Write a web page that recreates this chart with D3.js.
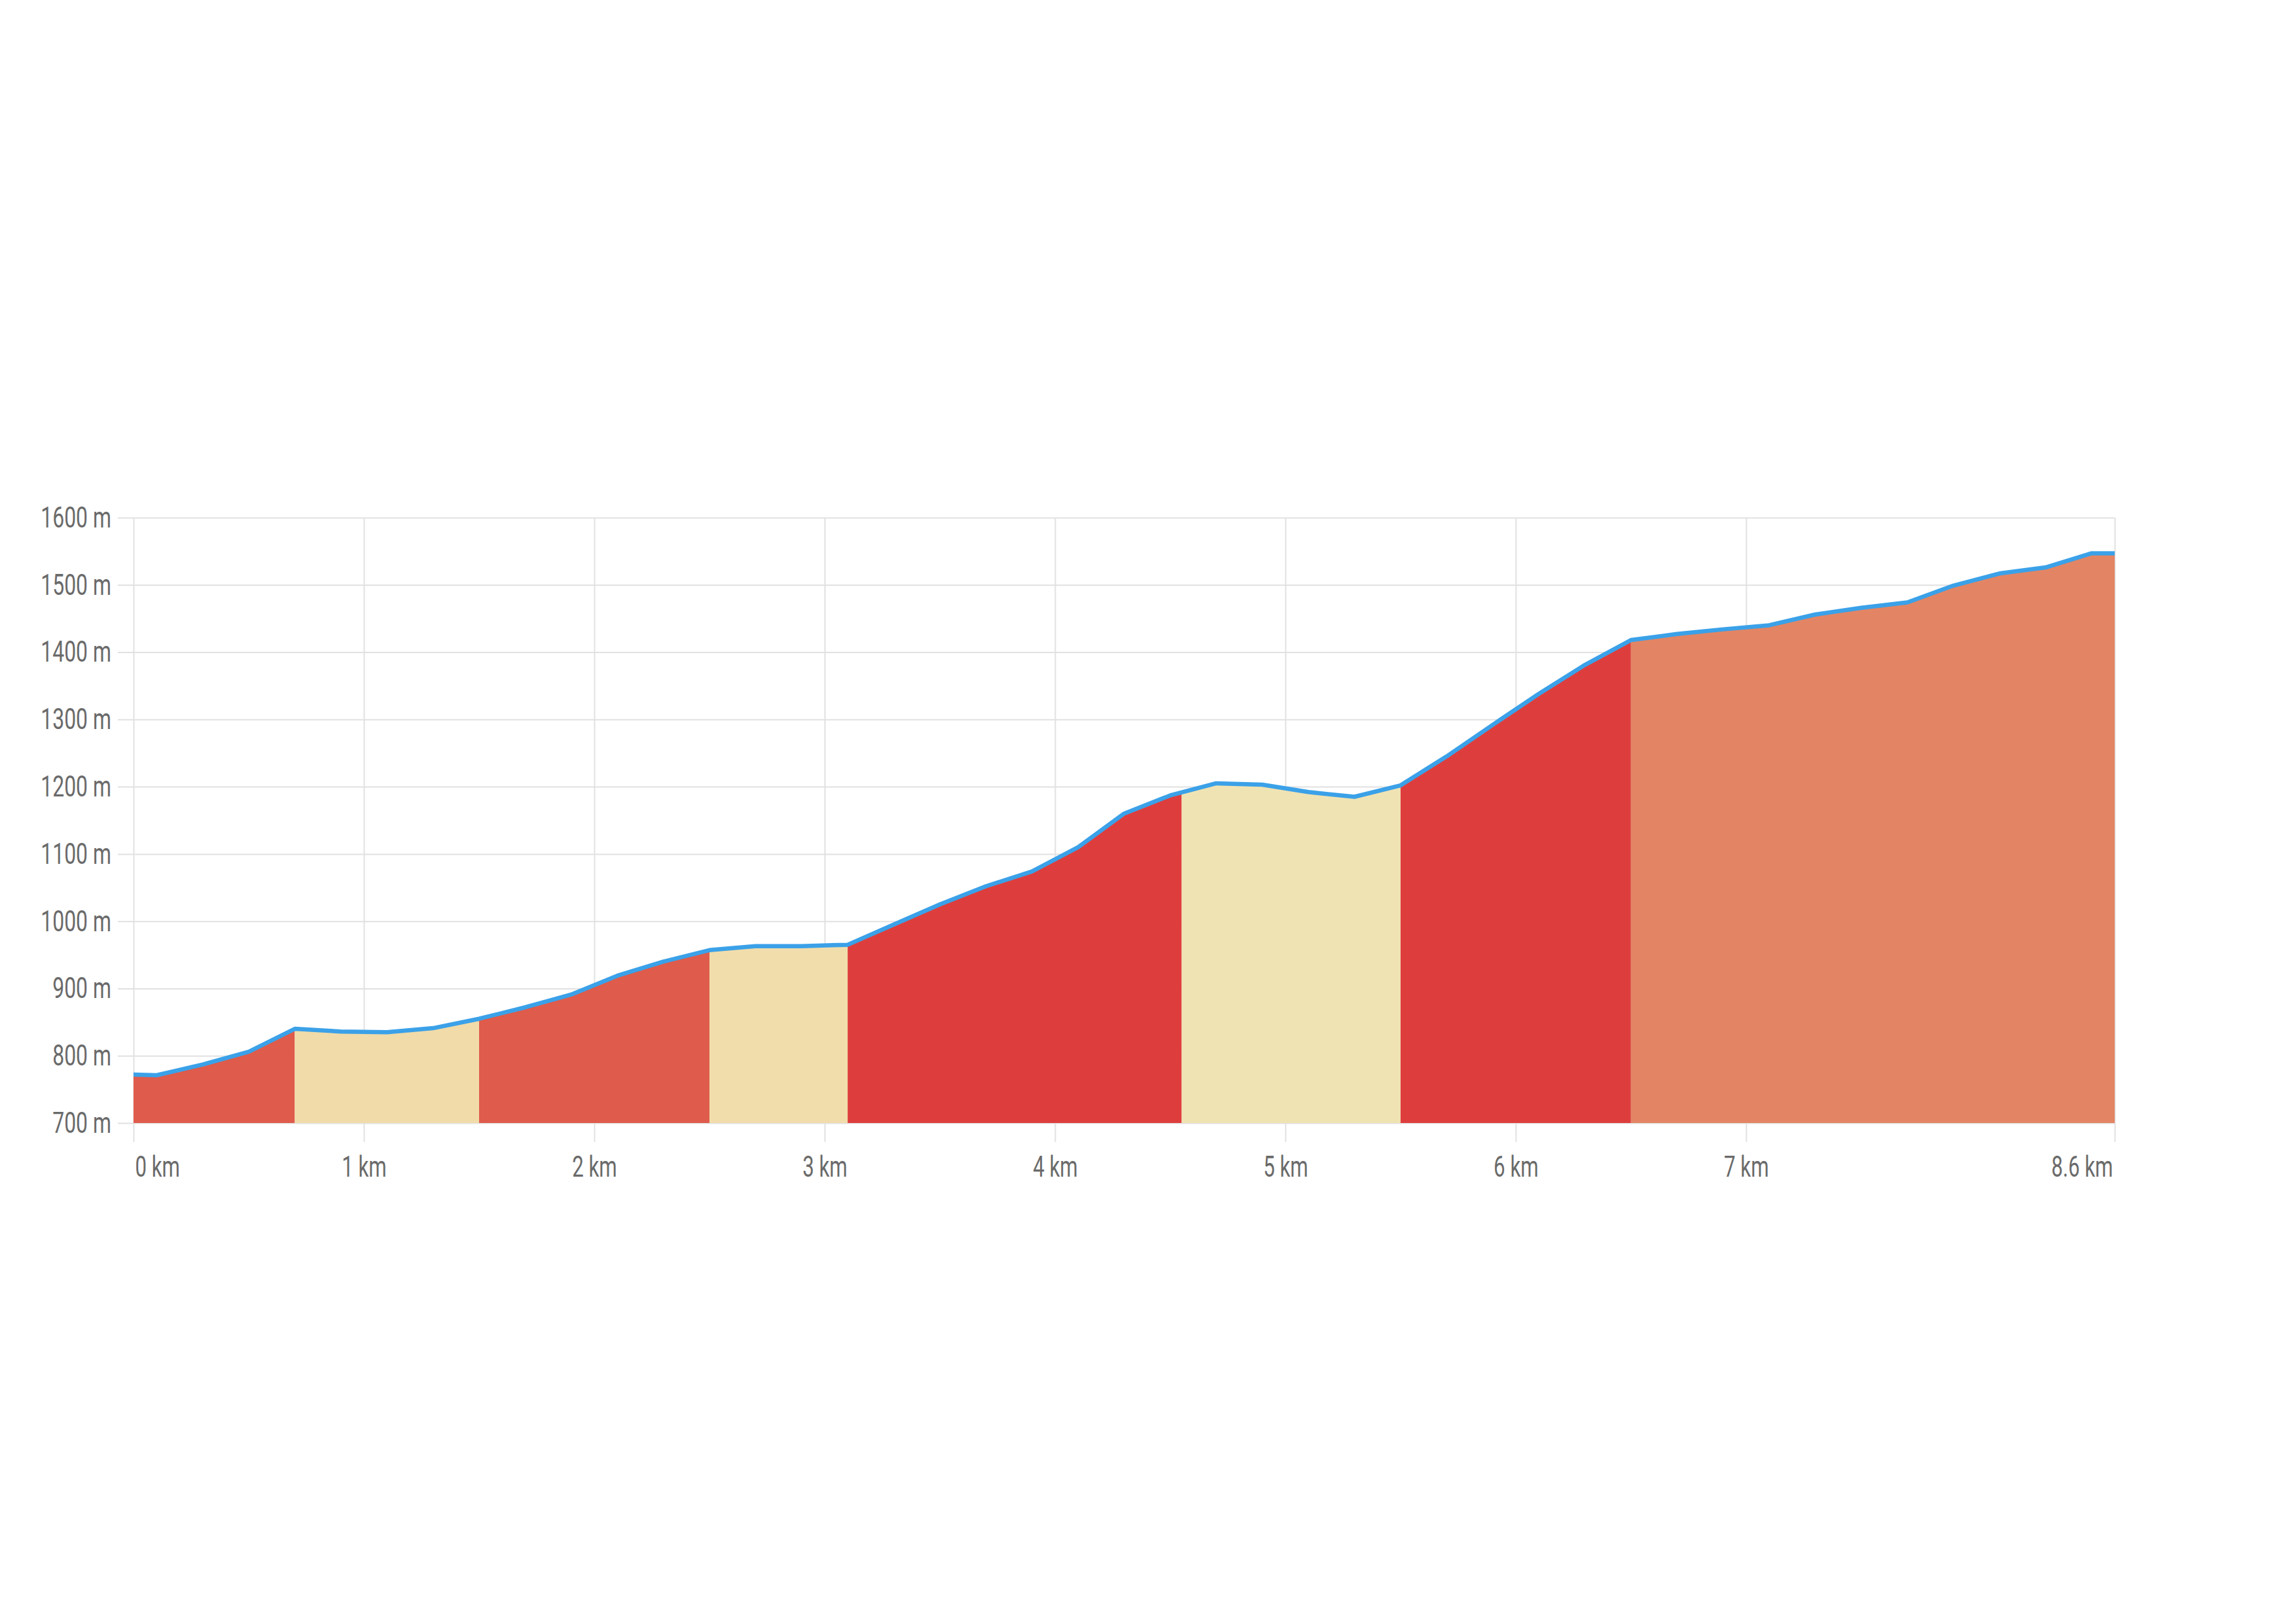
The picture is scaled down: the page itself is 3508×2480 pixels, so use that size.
<!DOCTYPE html>
<html><head><meta charset="utf-8">
<script src="https://cdn.jsdelivr.net/npm/d3@7"></script>
<style>html,body{margin:0;padding:0;background:#fff;} svg{display:block}</style>
</head><body>
<svg id="chart" width="3508" height="2480"></svg>
<script>
const distanceKm = [0, 0.1, 0.3, 0.5, 0.7, 0.9, 1.1, 1.3, 1.5, 1.7, 1.9, 2.1, 2.3, 2.5, 2.7, 2.9, 3.1, 3.3, 3.5, 3.7, 3.9, 4.1, 4.3, 4.5, 4.7, 4.9, 5.1, 5.3, 5.5, 5.7, 5.9, 6.1, 6.3, 6.5, 6.7, 6.9, 7.1, 7.3, 7.5, 7.7, 7.9, 8.1, 8.3, 8.5, 8.6];
const elevationM = [772, 771, 787, 806, 840, 836, 835, 841, 855, 872, 891, 919, 940, 957, 963, 963, 965, 995, 1025, 1052, 1074, 1110, 1160, 1187, 1205, 1203, 1192, 1185, 1202, 1245, 1292, 1338, 1381, 1418, 1427, 1434, 1440, 1456, 1466, 1474, 1499, 1517, 1526, 1547, 1547];
const segmentStartKm = [0, 0.7, 1.5, 2.5, 3.1, 4.55, 5.5, 6.5];
const segmentEndKm   = [0.7, 1.5, 2.5, 3.1, 4.55, 5.5, 6.5, 8.6];
const segmentColors  = ["#df5b4b", "#f0dba9", "#df5b4b", "#f1ddab", "#dd3e3d", "#f0e3b3", "#dd3e3d", "#e38564"];
const xTickValues = [0, 1, 2, 3, 4, 5, 6, 7, 8.6];
const xTickLabels = ["0 km", "1 km", "2 km", "3 km", "4 km", "5 km", "6 km", "7 km", "8.6 km"];
const yTickValues = [700, 800, 900, 1000, 1100, 1200, 1300, 1400, 1500, 1600];
const yTickLabels = ["700 m", "800 m", "900 m", "1000 m", "1100 m", "1200 m", "1300 m", "1400 m", "1500 m", "1600 m"];

(function () {
const profile = distanceKm.map((d, i) => ({km: d, elev: elevationM[i]}));
const svg = d3.select("#chart");
const plotLeft = 204, plotRight = 3231, plotTop = 791, plotBottom = 1716, tickBottom = 1745;
const x = d3.scaleLinear().domain([0, 8.6]).range([plotLeft, plotRight]);
const y = d3.scaleLinear().domain([700, 1600]).range([plotBottom, plotTop]);
const squeeze = 0.71;
const gridColor = "#e1e1e1";
const textColor = "#6a6a6a";

// Y axis with gridlines
const yAxis = d3.axisLeft(y).tickValues(yTickValues)
  .tickFormat((d, i) => yTickLabels[i])
  .tickSizeInner(-(plotRight - 180)).tickSizeOuter(0).tickPadding(10);
const gy = svg.append("g").attr("transform", `translate(180,0)`).call(yAxis);
gy.select(".domain").remove();
gy.selectAll(".tick line").attr("stroke", gridColor).attr("stroke-width", 2);
gy.selectAll(".tick text")
  .attr("fill", textColor).attr("font-family", "Roboto, 'Noto Sans', sans-serif")
  .attr("font-size", 45)
  .attr("transform", `scale(${squeeze},1)`)
  .attr("x", -10 / squeeze);

// X axis with gridlines
const xAxis = d3.axisBottom(x).tickValues(xTickValues)
  .tickFormat((d, i) => xTickLabels[i])
  .tickSizeInner(-(tickBottom - plotTop)).tickSizeOuter(0).tickPadding(22);
const gx = svg.append("g").attr("transform", `translate(0,${tickBottom})`).call(xAxis);
gx.select(".domain").remove();
gx.selectAll(".tick line").attr("stroke", gridColor).attr("stroke-width", 2);
gx.selectAll(".tick text")
  .attr("fill", textColor).attr("font-family", "Roboto, 'Noto Sans', sans-serif")
  .attr("font-size", 44)
  .attr("transform", `scale(${squeeze},1)`)
  .attr("text-anchor", (d, i) => i === 0 ? "start" : (i === xTickValues.length - 1 ? "end" : "middle"))
  .attr("x", (d, i) => i === 0 ? 2 / squeeze : (i === xTickValues.length - 1 ? -3 / squeeze : 0));

// Coloured segments
const area = d3.area().x(d => x(d.km)).y0(y(700)).y1(d => y(d.elev));
const defs = svg.append("defs");
segmentStartKm.forEach((s, i) => {
  defs.append("clipPath").attr("id", "seg" + i)
    .append("rect")
    .attr("x", x(s)).attr("y", 0)
    .attr("width", x(segmentEndKm[i]) - x(s)).attr("height", y(700));
  svg.append("path").datum(profile)
    .attr("d", area)
    .attr("fill", segmentColors[i])
    .attr("clip-path", `url(#seg${i})`);
});

// Profile line
const line = d3.line().x(d => x(d.km)).y(d => y(d.elev));
svg.append("path").datum(profile)
  .attr("d", line)
  .attr("fill", "none")
  .attr("stroke", "#3ba1e8")
  .attr("stroke-width", 6.5)
  .attr("stroke-linejoin", "round");
})();
</script>
</body></html>
